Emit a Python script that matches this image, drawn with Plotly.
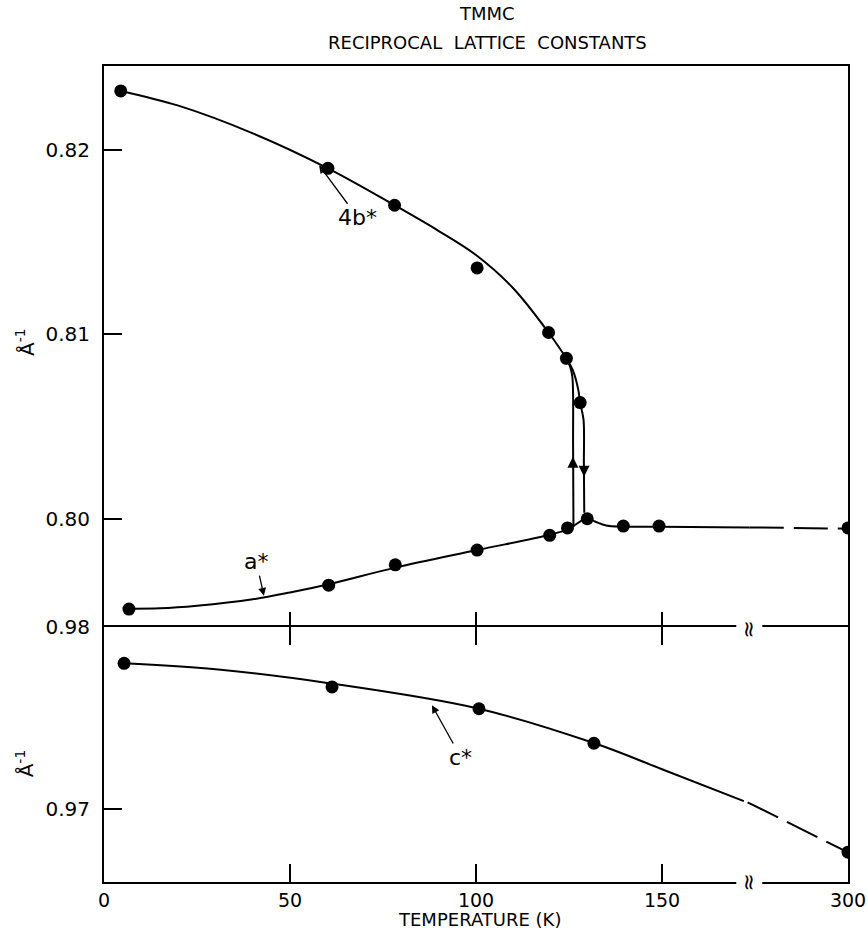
import plotly.graph_objects as go

# ---------------- data ----------------
BREAK = 173.6  # axis break position (display units); 300 K is drawn at 200

# measured points
b4_T = [4.5, 60.2, 78.1, 100.3, 119.5, 124.3, 128.0]
b4_v = [0.8232, 0.8190, 0.8170, 0.8136, 0.8101, 0.8087, 0.8063]
a_T = [6.7, 60.4, 78.3, 100.3, 119.8, 124.6, 129.9, 139.6, 149.2, 300]
a_v = [0.7951, 0.7964, 0.7975, 0.7983, 0.7991, 0.7995, 0.8000, 0.7996, 0.7996, 0.7995]
c_T = [5.4, 61.3, 100.8, 131.7, 300]
c_v = [0.9780, 0.9767, 0.9755, 0.9736, 0.9676]

# hand-drawn guide curves
b4_curve_T = [4.5, 20, 40, 60.2, 78.1, 90, 100, 110, 119.5, 124.3]
b4_curve_v = [0.8232, 0.8224, 0.8209, 0.8190, 0.8170, 0.8156, 0.8143, 0.8125, 0.8101, 0.8087]
warm_T = [124.3, 125.3, 125.9, 126.1, 126.2]      # heating branch (up arrow)
warm_v = [0.8087, 0.80824, 0.8077, 0.8040, 0.79957]
cool_T = [124.3, 126.2, 127.5, 128.0, 128.9, 129.0, 129.1]  # cooling branch (down arrow)
cool_v = [0.8087, 0.80797, 0.80699, 0.80629, 0.80537, 0.8030, 0.80033]
a_curve_T = [6.7, 15, 25, 40, 50, 60.4, 78.3, 100.3, 119.8, 124.6, 129.9, 132, 135, 139.6, 149.2, 173.6]
a_curve_v = [0.79512, 0.79514, 0.79528, 0.79563, 0.79600, 0.79645, 0.79735, 0.79830, 0.79913,
             0.79942, 0.80003, 0.79985, 0.79963, 0.79957, 0.79957, 0.79953]
a_dash_T = [173.6, 300]
a_dash_v = [0.79953, 0.79946]
c_curve_T = [5.4, 30, 60, 100.8, 131.7, 150, 172]
c_curve_v = [0.9780, 0.97767, 0.97692, 0.9755, 0.97361, 0.97217, 0.97041]
c_dash_T = [173, 300]
c_dash_v = [0.97035, 0.96759]

x_tickvals_T = [0, 50, 100, 150, 300]
x_ticktext = ["0", "50", "100", "150", "300"]


def xd(T):
    """temperature -> display position (broken axis: 173.6..300 K squeezed)"""
    return [t if t <= BREAK else BREAK + (t - BREAK) * (200 - BREAK) / (300 - BREAK) for t in T]


FONT = "DejaVu Sans"
BLACK = "black"
LW = 2

fig = go.Figure()


def line(T, v, yaxis, dash="solid", shape="spline"):
    fig.add_trace(go.Scatter(x=xd(T), y=v, mode="lines", xaxis="x" if yaxis == "y" else "x2",
                             yaxis=yaxis, line=dict(color=BLACK, width=LW, dash=dash, shape=shape,
                                                    smoothing=1.0),
                             hoverinfo="skip", showlegend=False))


def pts(T, v, yaxis):
    fig.add_trace(go.Scatter(x=xd(T), y=v, mode="markers", xaxis="x" if yaxis == "y" else "x2",
                             yaxis=yaxis, marker=dict(color=BLACK, size=13, line=dict(width=0)),
                             showlegend=False))


line(b4_curve_T, b4_curve_v, "y")
line(warm_T, warm_v, "y")
line(cool_T, cool_v, "y")
line(a_curve_T, a_curve_v, "y")
line(a_dash_T, a_dash_v, "y", dash="34px,10px", shape="linear")
line(c_curve_T, c_curve_v, "y2")
line(c_dash_T, c_dash_v, "y2", dash="34px,10px", shape="linear")

pts(b4_T, b4_v, "y")
pts(a_T, a_v, "y")
pts(c_T, c_v, "y2")

# arrow heads on the hysteresis branches
fig.add_trace(go.Scatter(x=xd([126.05, 129.05]), y=[0.80336, 0.80228], mode="markers",
                         marker=dict(symbol=["arrow-up", "arrow-down"], size=11, color=BLACK),
                         xaxis="x", yaxis="y", showlegend=False, hoverinfo="skip"))

axis_common = dict(showgrid=False, zeroline=False, showline=True, linecolor=BLACK, linewidth=LW,
                   tickcolor=BLACK, tickwidth=1.5, ticks="inside", automargin=False,
                   tickfont=dict(family=FONT, size=20, color=BLACK))

PLOT_H = 931 - 66 - 49
BOT = 0.3125
TOP_BOT = BOT - 2.0 / PLOT_H   # overlap so the separator is a single line
top_lo = 0.79413 - 2.0 / 18450
fig.update_layout(
    width=868, height=931,
    margin=dict(l=104, r=20, t=66, b=49, autoexpand=False),
    paper_bgcolor="white", plot_bgcolor="white",
    font=dict(family=FONT, color=BLACK),
    xaxis=dict(**axis_common, domain=[0, 1], anchor="y", range=[0, 200], mirror=True,
               tickvals=xd(x_tickvals_T)[1:4], showticklabels=False, ticklen=17),
    yaxis=dict(**axis_common, domain=[TOP_BOT, 1], anchor="x", range=[top_lo, 0.82455], mirror=True,
               tickvals=[0.80, 0.81, 0.82], ticktext=["0.80", "0.81", "0.82"], ticklen=18,
               ticklabelstandoff=8),
    xaxis2=dict(**axis_common, domain=[0, 1], anchor="y2", range=[0, 200], mirror="ticks",
                tickvals=xd(x_tickvals_T), ticktext=x_ticktext, ticklen=18, ticklabelstandoff=0,
                ticklabeloverflow="allow"),
    yaxis2=dict(**axis_common, domain=[0, BOT], anchor="x2", range=[0.96596, 0.98], mirror=True,
                tickvals=[0.97, 0.98], ticktext=["0.97", "0.98"], ticklen=18, ticklabelstandoff=8),
)
fig.update_xaxes(tickfont=dict(family=FONT, size=19, color=BLACK), selector=dict(anchor="y2"))

ann = []
TF = dict(family=FONT, size=18, color=BLACK)
# titles
ann.append(dict(text="TMMC", x=0.515, y=1.0, xref="paper", yref="paper", yanchor="middle",
                yshift=53, showarrow=False, font=TF))
ann.append(dict(text="RECIPROCAL&nbsp;&nbsp;LATTICE&nbsp;&nbsp;CONSTANTS", x=0.515, y=1.0, xref="paper",
                yref="paper", yanchor="middle", yshift=24, showarrow=False, font=TF))
ann.append(dict(text="TEMPERATURE (K)", x=0.505, y=0, xref="paper", yref="paper", yanchor="middle",
                yshift=-37, showarrow=False, font=dict(family=FONT, size=18, color=BLACK)))
# y-axis unit labels
ann.append(dict(text="Å<sup>-1</sup>", x=-0.106, y=0.82 - (342 - 150) / 18450, xref="paper", yref="y",
                xanchor="center", yanchor="middle", textangle=-90,
                showarrow=False, font=dict(family=FONT, size=20, color=BLACK)))
ann.append(dict(text="Å<sup>-1</sup>", x=-0.106, y=0.98 - (762 - 627) / 18000, xref="paper", yref="y2",
                xanchor="center", yanchor="middle", textangle=-90,
                showarrow=False, font=dict(family=FONT, size=20, color=BLACK)))
# curve labels with arrows
LF = dict(family=FONT, size=22, color=BLACK)
ann.append(dict(text="4b*", x=57.5, y=0.81925, xref="x", yref="y", ax=40, ay=54, showarrow=True,
                arrowhead=2, arrowsize=1.2, arrowwidth=1.3, arrowcolor=BLACK, font=LF, standoff=2))
ann.append(dict(text="a*", x=43.1, y=0.79572, xref="x", yref="y", ax=-8, ay=-36, showarrow=True,
                arrowhead=2, arrowsize=1.2, arrowwidth=1.3, arrowcolor=BLACK, font=LF, standoff=2))
ann.append(dict(text="c*", x=87.9, y=0.97579, xref="x2", yref="y2", ax=30, ay=54, showarrow=True,
                arrowhead=2, arrowsize=1.2, arrowwidth=1.3, arrowcolor=BLACK, font=LF, standoff=2))
# axis-break marks
for yref, yv in [("y", top_lo), ("y2", 0.96596)]:
    ann.append(dict(text="≈", x=BREAK, y=yv, xref="x", yref=yref, showarrow=False, textangle=90,
                    bgcolor="white", borderpad=0, font=dict(family=FONT, size=22, color=BLACK)))

fig.update_layout(annotations=ann)
fig.write_html("out.html")
